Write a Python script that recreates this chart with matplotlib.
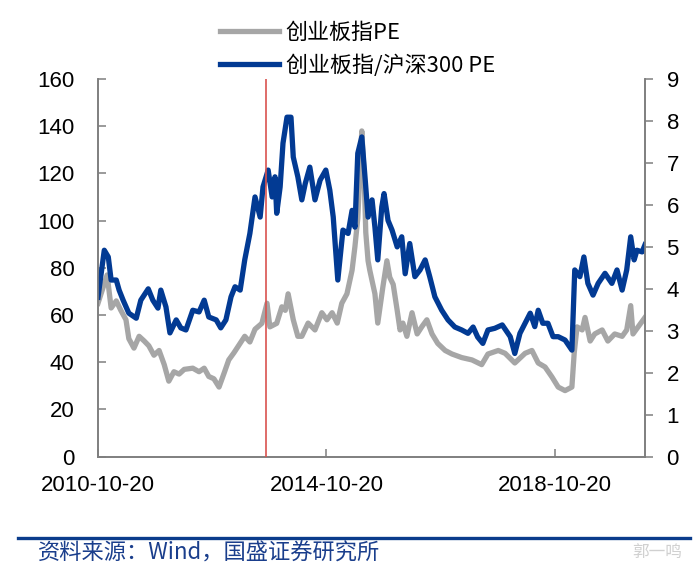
import matplotlib
matplotlib.use("Agg")
import matplotlib.pyplot as plt
from matplotlib.lines import Line2D

# ---------------- data ----------------
series_names = ["创业板指PE", "创业板指/沪深300 PE"]

gray_years = [2010.80, 2010.96, 2011.03, 2011.12, 2011.20, 2011.29, 2011.34, 2011.43,
              2011.52, 2011.61, 2011.69, 2011.78, 2011.87, 2011.96, 2012.04, 2012.13,
              2012.22, 2012.31, 2012.46, 2012.57, 2012.66, 2012.74, 2012.83, 2012.92,
              2013.01, 2013.09, 2013.18, 2013.37, 2013.46, 2013.55, 2013.67, 2013.76,
              2013.81, 2013.93, 2014.02, 2014.08, 2014.13, 2014.22, 2014.30, 2014.37,
              2014.48, 2014.60, 2014.72, 2014.81, 2014.90, 2014.99, 2015.07, 2015.16,
              2015.25, 2015.30, 2015.35, 2015.42, 2015.46, 2015.49, 2015.53, 2015.56,
              2015.65, 2015.70, 2015.79, 2015.86, 2015.91, 2015.97, 2016.04, 2016.09,
              2016.14, 2016.21, 2016.30, 2016.39, 2016.47, 2016.56, 2016.65, 2016.75,
              2016.88, 2017.00, 2017.17, 2017.35, 2017.52, 2017.63, 2017.81, 2017.93,
              2018.10, 2018.28, 2018.40, 2018.51, 2018.63, 2018.75, 2018.86, 2018.98,
              2019.10, 2019.14, 2019.19, 2019.28, 2019.33, 2019.42, 2019.50, 2019.63,
              2019.73, 2019.85, 2019.98, 2020.06, 2020.13, 2020.17, 2020.26, 2020.38]
gray_pe = [65, 77, 63, 66, 62, 58, 50, 46,
           51, 49, 47, 43, 45, 39, 32, 36,
           35, 37, 37.5, 36, 37.5, 34, 33, 29.5,
           35.5, 41, 44, 51, 48.6, 54, 56.5, 65,
           55, 56.5, 63.5, 62, 69, 58, 51, 51,
           56.6, 53.7, 61, 58, 61, 56.6, 65, 69,
           79, 89, 101, 138, 120, 95, 83, 79,
           69, 56.6, 72, 83, 76, 73, 62, 53.7,
           56.6, 51, 61, 52, 55, 58, 52, 48,
           45, 43.5, 42, 41, 39, 43.5, 45, 43.8,
           39.7, 43.8, 45, 39.7, 38, 33.8, 29.5, 28,
           29.5, 43.8, 55, 53.7, 59, 49, 52, 53.7,
           49, 52, 51, 53.7, 64, 52, 55, 59]

blue_years = [2010.80, 2010.91, 2010.98, 2011.03, 2011.12, 2011.17, 2011.24, 2011.34,
              2011.47, 2011.55, 2011.68, 2011.76, 2011.85, 2011.90, 2011.99, 2012.06,
              2012.17, 2012.25, 2012.34, 2012.46, 2012.57, 2012.66, 2012.74, 2012.87,
              2012.95, 2013.04, 2013.13, 2013.20, 2013.29, 2013.37, 2013.46, 2013.55,
              2013.64, 2013.69, 2013.78, 2013.85, 2013.90, 2013.93, 2013.99, 2014.04,
              2014.11, 2014.18, 2014.22, 2014.30, 2014.37, 2014.43, 2014.51, 2014.60,
              2014.69, 2014.79, 2014.86, 2014.92, 2015.00, 2015.09, 2015.18, 2015.25,
              2015.30, 2015.35, 2015.42, 2015.48, 2015.53, 2015.60, 2015.65, 2015.70,
              2015.77, 2015.81, 2015.88, 2015.95, 2016.04, 2016.12, 2016.18, 2016.26,
              2016.35, 2016.44, 2016.53, 2016.61, 2016.70, 2016.82, 2016.93, 2017.05,
              2017.17, 2017.28, 2017.37, 2017.45, 2017.54, 2017.63, 2017.75, 2017.88,
              2017.98, 2018.02, 2018.10, 2018.19, 2018.28, 2018.37, 2018.45, 2018.51,
              2018.59, 2018.68, 2018.77, 2018.86, 2018.98, 2019.10, 2019.15, 2019.24,
              2019.31, 2019.38, 2019.47, 2019.56, 2019.68, 2019.80, 2019.89, 2019.98,
              2020.06, 2020.13, 2020.19, 2020.24, 2020.33, 2020.38]
blue_ratio = [3.80, 4.92, 4.76, 4.21, 4.21, 3.97, 3.73, 3.42,
              3.30, 3.73, 4.00, 3.73, 3.54, 3.97, 3.57, 2.95,
              3.26, 3.07, 3.02, 3.49, 3.45, 3.73, 3.33, 3.26,
              3.07, 3.26, 3.81, 4.05, 3.97, 4.69, 5.32, 6.19,
              5.71, 6.43, 6.83, 6.19, 6.67, 5.80, 6.43, 7.47,
              8.09, 8.09, 7.14, 6.67, 6.12, 6.51, 6.90, 6.12,
              6.59, 6.83, 6.35, 5.71, 4.21, 5.40, 5.32, 5.87,
              5.47, 7.23, 7.62, 6.60, 5.71, 6.12, 5.47, 4.69,
              5.95, 6.27, 5.63, 5.40, 5.00, 5.24, 4.36, 5.08,
              4.29, 4.45, 4.69, 4.29, 3.81, 3.49, 3.26, 3.09,
              3.02, 2.94, 3.09, 2.85, 2.70, 3.02, 3.06, 3.14,
              2.94, 2.86, 2.46, 2.94, 3.18, 3.42, 3.10, 3.49,
              3.18, 3.18, 2.86, 2.86, 2.78, 2.54, 4.45, 4.29,
              4.76, 4.13, 3.85, 4.13, 4.37, 4.13, 4.45, 3.97,
              4.45, 5.24, 4.69, 4.92, 4.88, 5.05]

marker_year = 2013.74
x_tick_years = [2010.80, 2014.80, 2018.80]
x_tick_labels = ["2010-10-20", "2014-10-20", "2018-10-20"]
left_ticks = [0, 20, 40, 60, 80, 100, 120, 140, 160]
right_ticks = [0, 1, 2, 3, 4, 5, 6, 7, 8, 9]
source_text = "资料来源：Wind，国盛证券研究所"

# ---------------- styling ----------------
GRAY = "#A6A6A6"
BLUE = "#023A93"
RED = "#D9534F"
AXC = "#7F7F7F"
NUM_FONT = ["Liberation Sans", "DejaVu Sans"]
CJK_FONT = ["Noto Sans CJK SC", "DejaVu Sans"]

fig = plt.figure(figsize=(7.0, 5.66), dpi=100)
ax = fig.add_axes([0.14, 0.1931, 0.7814, 0.6673])
ax2 = ax.twinx()

l1, = ax.plot(gray_years, gray_pe, color=GRAY, lw=3.8, solid_joinstyle="round", zorder=2)
l2, = ax2.plot(blue_years, blue_ratio, color=BLUE, lw=3.8, solid_joinstyle="round", zorder=2)
ax2.axvline(marker_year, color=RED, lw=1.2, zorder=5)

ax.set_xlim(2010.80, 2020.38)
ax.set_ylim(0, 160)
ax2.set_ylim(0, 9)
ax.set_yticks(left_ticks)
ax2.set_yticks(right_ticks)
ax.set_xticks(x_tick_years)
ax.set_xticklabels(x_tick_labels)

for a in (ax, ax2):
    a.spines["top"].set_visible(False)
    for side in ("left", "right", "bottom"):
        a.spines[side].set_color(AXC)
        a.spines[side].set_linewidth(1.2)

ax.tick_params(axis="y", direction="in", length=5.5, width=1.1, color=AXC, pad=17,
               labelsize=16)
ax.tick_params(axis="x", direction="in", length=5.5, width=1.1, color=AXC, pad=13,
               labelsize=16)
ax2.tick_params(axis="y", direction="out", length=5.5, width=1.1, color=AXC, pad=10,
                labelsize=16)
for lab in ax.get_yticklabels() + ax.get_xticklabels() + ax2.get_yticklabels():
    lab.set_fontfamily(NUM_FONT)

leg = fig.legend([l1, l2], series_names, loc="upper left",
                 bbox_to_anchor=(0.286, 0.997), frameon=False,
                 handlelength=2.7, handletextpad=0.3, labelspacing=0.5,
                 prop={"family": CJK_FONT, "size": 15.8})
for h in leg.legend_handles:
    h.set_linewidth(3.8)

fig.add_artist(Line2D([18 / 700, 690 / 700], [1 - 538 / 566, 1 - 538 / 566],
                      color="#0B3C8C", lw=2.4, transform=fig.transFigure))
fig.text(38 / 700, 1 - 553 / 566, source_text, family=CJK_FONT, style="italic",
         fontsize=16, color="#1A3E8C", va="center", ha="left")
fig.text(632 / 700, 1 - 552 / 566, "郭一鸣", family=CJK_FONT, fontsize=12,
         color="#D0D0D0", va="center", ha="left")

fig.savefig("out.png", dpi=100)
